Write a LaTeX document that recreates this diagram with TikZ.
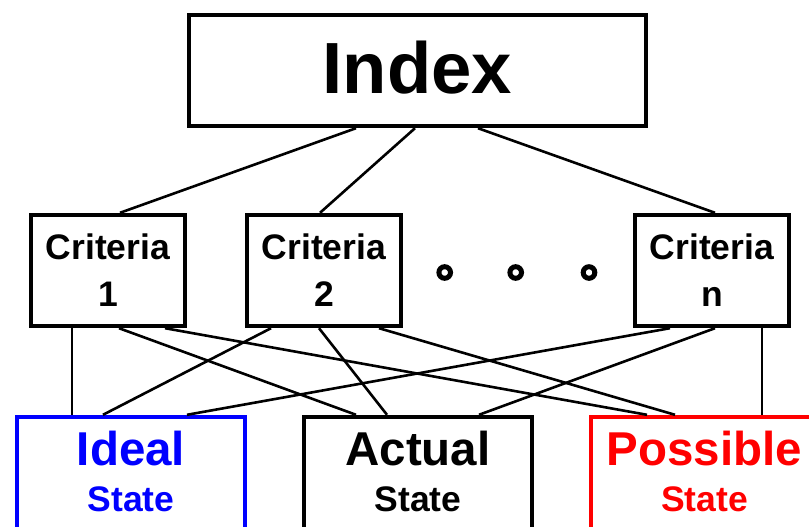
\documentclass[tikz,border=0pt]{standalone}
\usepackage{fontspec}
\setmainfont{Liberation Sans}
\begin{document}
\begin{tikzpicture}[x=1pt,y=-1pt,
  box/.style={draw=black,line width=4.4pt,rectangle,inner sep=0pt},
  crit/.style={box,minimum width=154pt,minimum height=111pt,align=center,
    font=\bfseries\fontsize{35.5}{47}\selectfont},
  statebox/.style={box,minimum width=227.5pt,minimum height=150pt},
  big/.style={anchor=base,inner sep=0pt,font=\bfseries\fontsize{47.5}{47.5}\selectfont},
  small/.style={anchor=base,inner sep=0pt,font=\bfseries\fontsize{35.5}{35.5}\selectfont},
  conn/.style={draw=black,line width=2.6pt},
  ring/.style={draw=black,line width=5pt}]
\useasboundingbox (0,0) rectangle (809,527);
\clip (0,0) rectangle (809,527);
\fill[white] (0,0) rectangle (809,527);

% top
\node[box,minimum width=457pt,minimum height=111pt,text depth=7pt,
  font=\bfseries\fontsize{72.5}{72.5}\selectfont] (idx) at (417.5,70.5) {Index};

% criteria
\node[crit] (c1) at (108,270.5) {Criteria\\1};
\node[crit] (c2) at (324,270.5) {Criteria\\2};
\node[crit] (cn) at (712,270.5) {Criteria\\n};

\coordinate (d1) at (444.7,272.5);
\coordinate (d2) at (515.7,272.5);
\coordinate (d3) at (589,272.5);
\draw[ring] (d1) circle[radius=5.8pt];
\draw[ring] (d2) circle[radius=5.8pt];
\draw[ring] (d3) circle[radius=5.8pt];

% states
\node[statebox,draw=blue] (ideal) at (131,492) {};
\node[statebox] (actual) at (418,492) {};
\node[statebox,draw=red] (poss) at (704.5,492) {};

\node[big,text=blue] (idealA) at ([yshift=-51pt]ideal.north) {Ideal};
\node[small,text=blue] (idealB) at ([yshift=-97pt]ideal.north) {State};
\node[big] (actualA) at ([yshift=-51pt]actual.north) {Actual};
\node[small] (actualB) at ([yshift=-97pt]actual.north) {State};
\node[big,text=red] (possA) at ([yshift=-51pt]poss.north) {Possible};
\node[small,text=red] (possB) at ([yshift=-97pt]poss.north) {State};

% index to criteria
\draw[conn] ([xshift=-61.5pt]idx.south) -- ([xshift=12pt]c1.north);
\draw[conn] ([xshift=-2.5pt]idx.south) -- ([xshift=-4pt]c2.north);
\draw[conn] ([xshift=60.5pt]idx.south) -- ([xshift=3pt]cn.north);

% criteria to states
\draw[conn] ([xshift=-36pt]c1.south) -- ([xshift=-59pt]ideal.north);
\draw[conn] ([xshift=11pt]c1.south) -- ([xshift=-62pt]actual.north);
\draw[conn] ([xshift=57pt]c1.south) -- ([xshift=-57.5pt]poss.north);

\draw[conn] ([xshift=-53pt]c2.south) -- ([xshift=-28pt]ideal.north);
\draw[conn] ([xshift=-5pt]c2.south) -- ([xshift=-31pt]actual.north);
\draw[conn] ([xshift=55pt]c2.south) -- ([xshift=-29.5pt]poss.north);

\draw[conn] ([xshift=-42pt]cn.south) -- ([xshift=56pt]ideal.north);
\draw[conn] ([xshift=3pt]cn.south) -- ([xshift=61pt]actual.north);
\draw[conn] ([xshift=50pt]cn.south) -- ([xshift=57.5pt]poss.north);
\end{tikzpicture}
\end{document}
